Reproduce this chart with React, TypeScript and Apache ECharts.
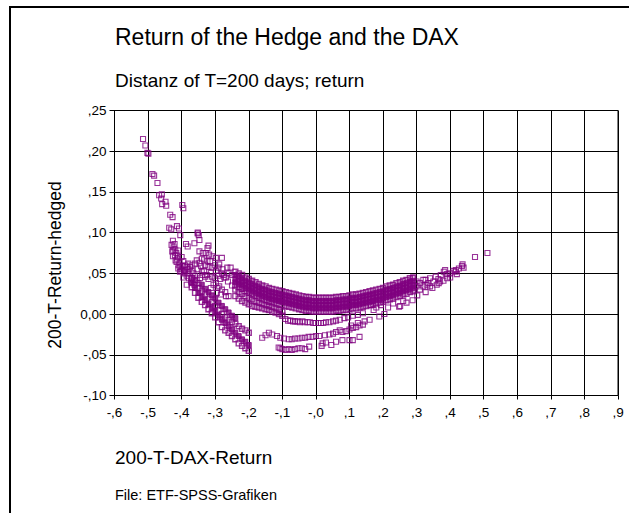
import React, { useEffect, useRef } from "react";
import * as echarts from "echarts";

const xTickLabels = ["-,6", "-,5", "-,4", "-,3", "-,2", "-,1", "-,0", ",1", ",2", ",3", ",4", ",5", ",6", ",7", ",8", ",9"];
const yTickLabels = ["-,10", "-,05", "0,00", ",05", ",10", ",15", ",20", ",25"];

// dense main band (read as rows across the band)
const bandX = [-0.24, -0.23, -0.22, -0.21, -0.2, -0.19, -0.18, -0.17, -0.16, -0.15, -0.14, -0.13, -0.12, -0.11, -0.1, -0.09, -0.08, -0.07, -0.06, -0.05, -0.04, -0.03, -0.02, -0.01, 0.0, 0.01, 0.02, 0.03, 0.04, 0.05, 0.06, 0.07, 0.08, 0.09, 0.1, 0.11, 0.12, 0.13, 0.14, 0.15, 0.16, 0.17, 0.18, 0.19, 0.2, 0.21, 0.22, 0.23, 0.24, 0.25, 0.26, 0.27, 0.28, 0.29];
const bandTop = [0.052, 0.05, 0.048, 0.045, 0.043, 0.041, 0.039, 0.037, 0.035, 0.034, 0.032, 0.031, 0.03, 0.029, 0.028, 0.027, 0.026, 0.025, 0.024, 0.023, 0.022, 0.021, 0.021, 0.02, 0.02, 0.02, 0.02, 0.02, 0.02, 0.02, 0.021, 0.021, 0.022, 0.022, 0.023, 0.024, 0.024, 0.025, 0.026, 0.027, 0.028, 0.029, 0.03, 0.031, 0.032, 0.034, 0.035, 0.036, 0.038, 0.039, 0.041, 0.042, 0.044, 0.045];
const bandUpper = [0.048, 0.046, 0.044, 0.041, 0.039, 0.037, 0.035, 0.033, 0.031, 0.03, 0.028, 0.027, 0.026, 0.025, 0.024, 0.023, 0.022, 0.021, 0.02, 0.019, 0.018, 0.017, 0.017, 0.016, 0.016, 0.016, 0.016, 0.016, 0.016, 0.016, 0.017, 0.017, 0.018, 0.018, 0.019, 0.02, 0.02, 0.021, 0.022, 0.023, 0.024, 0.025, 0.026, 0.027, 0.028, 0.03, 0.031, 0.032, 0.034, 0.035, 0.037, 0.038, 0.04, 0.041];
const bandMid = [0.043, 0.041, 0.039, 0.036, 0.034, 0.032, 0.03, 0.028, 0.026, 0.025, 0.023, 0.022, 0.021, 0.02, 0.019, 0.018, 0.017, 0.016, 0.015, 0.014, 0.013, 0.012, 0.012, 0.011, 0.011, 0.011, 0.011, 0.011, 0.011, 0.011, 0.012, 0.012, 0.013, 0.013, 0.014, 0.015, 0.015, 0.016, 0.017, 0.018, 0.019, 0.02, 0.021, 0.022, 0.023, 0.025, 0.026, 0.027, 0.029, 0.03, 0.032, 0.033, 0.035, 0.036];
const bandLower = [0.039, 0.037, 0.035, 0.032, 0.03, 0.028, 0.026, 0.024, 0.022, 0.021, 0.019, 0.018, 0.017, 0.016, 0.015, 0.014, 0.013, 0.012, 0.011, 0.01, 0.009, 0.008, 0.008, 0.007, 0.007, 0.007, 0.007, 0.007, 0.007, 0.007, 0.008, 0.008, 0.009, 0.009, 0.01, 0.011, 0.011, 0.012, 0.013, 0.014, 0.015, 0.016, 0.017, 0.018, 0.019, 0.021, 0.022, 0.023, 0.025, 0.026, 0.028, 0.029, 0.031, 0.032];
const bandBottom = [0.035, 0.033, 0.031, 0.028, 0.026, 0.024, 0.022, 0.02, 0.018, 0.017, 0.015, 0.014, 0.013, 0.012, 0.011, 0.01, 0.009, 0.008, 0.007, 0.006, 0.005, 0.004, 0.004, 0.003, 0.003, 0.003, 0.003, 0.003, 0.003, 0.003, 0.004, 0.004, 0.005, 0.005, 0.006, 0.007, 0.007, 0.008, 0.009, 0.01, 0.011, 0.012, 0.013, 0.014, 0.015, 0.017, 0.018, 0.019, 0.021, 0.022, 0.024, 0.025, 0.027, 0.028];

// second (middle) band below the main one
const midBandX = [-0.24, -0.23, -0.22, -0.21, -0.2, -0.19, -0.18, -0.17, -0.16, -0.15, -0.14, -0.13, -0.12, -0.11, -0.1];
const midBandA = [0.03, 0.027, 0.025, 0.022, 0.02, 0.018, 0.016, 0.014, 0.013, 0.011, 0.01, 0.009, 0.007, 0.005, 0.003];
const midBandB = [0.022, 0.019, 0.016, 0.014, 0.012, 0.01, 0.009, 0.008, 0.007, 0.006, 0.005, 0.003, 0.002, 0.0, -0.002];

// steep left lower branch, read as lines
const branchAX = [-0.37, -0.36, -0.35, -0.34, -0.33, -0.32, -0.31, -0.3, -0.29, -0.28, -0.27, -0.26, -0.25, -0.24, -0.23, -0.22, -0.21, -0.2];
const branchA1 = [0.033, 0.026, 0.02, 0.015, 0.011, 0.006, 0.001, -0.004, -0.01, -0.016, -0.02, -0.023, -0.027, -0.031, -0.036, -0.039, -0.042, -0.045];
const branchA2 = [0.038, 0.032, 0.026, 0.021, 0.017, 0.012, 0.008, 0.003, -0.002, -0.007, -0.011, -0.015, -0.019, -0.023, -0.027, -0.031, -0.034, -0.038];
const branchA3 = [0.044, 0.04, 0.032, 0.028, 0.024, 0.019, 0.015, 0.01, 0.005, 0.0, -0.004, -0.007, -0.01, -0.012, -0.015, -0.018, -0.02, -0.023];
const branchA4X = [-0.34, -0.33, -0.32, -0.31, -0.3, -0.29, -0.28, -0.27, -0.26, -0.25, -0.24];
const branchA4 = [0.036, 0.031, 0.027, 0.023, 0.019, 0.014, 0.01, 0.006, 0.002, -0.002, -0.005];

const leftTail = [
  [-0.515, 0.215], [-0.508, 0.207], [-0.502, 0.198], [-0.499, 0.197], [-0.487, 0.172], [-0.482, 0.17],
  [-0.472, 0.161], [-0.467, 0.146], [-0.459, 0.147], [-0.461, 0.142], [-0.458, 0.135], [-0.448, 0.138],
  [-0.446, 0.133], [-0.434, 0.122], [-0.427, 0.119], [-0.437, 0.106], [-0.431, 0.104], [-0.398, 0.134],
  [-0.395, 0.13], [-0.414, 0.108], [-0.408, 0.105], [-0.404, 0.097],
];

const leftCluster = [
  [-0.352, 0.099], [-0.349, 0.097], [-0.362, 0.087], [-0.426, 0.09], [-0.421, 0.086], [-0.428, 0.077],
  [-0.416, 0.075], [-0.426, 0.071], [-0.411, 0.071], [-0.406, 0.063], [-0.397, 0.059], [-0.401, 0.053],
  [-0.387, 0.086], [-0.382, 0.083], [-0.347, 0.077], [-0.337, 0.075], [-0.328, 0.075], [-0.318, 0.073],
  [-0.308, 0.071], [-0.298, 0.069], [-0.32, 0.084], [-0.333, 0.067], [-0.323, 0.065], [-0.315, 0.065],
  [-0.28, 0.069], [-0.288, 0.061], [-0.264, 0.057], [-0.254, 0.057], [-0.347, 0.063], [-0.342, 0.059],
  [-0.352, 0.055], [-0.333, 0.053], [-0.313, 0.051], [-0.298, 0.053], [-0.278, 0.055], [-0.424, 0.082],
  [-0.419, 0.079], [-0.413, 0.068], [-0.418, 0.066], [-0.409, 0.06], [-0.404, 0.058], [-0.4, 0.055],
  [-0.392, 0.054], [-0.392, 0.05], [-0.385, 0.047], [-0.378, 0.044], [-0.37, 0.045], [-0.365, 0.05],
  [-0.36, 0.047], [-0.372, 0.04], [-0.362, 0.036], [-0.355, 0.042], [-0.35, 0.038], [-0.345, 0.044],
  [-0.338, 0.048], [-0.33, 0.046], [-0.32, 0.043], [-0.31, 0.046], [-0.3, 0.044], [-0.29, 0.047],
  [-0.285, 0.043], [-0.275, 0.048], [-0.268, 0.045], [-0.26, 0.05], [-0.25, 0.048], [-0.298, 0.038],
  [-0.288, 0.034], [-0.28, 0.03], [-0.27, 0.027], [-0.26, 0.022], [-0.273, 0.045], [-0.262, 0.04],
  [-0.25, 0.035], [-0.313, 0.032], [-0.293, 0.032], [-0.283, 0.024], [-0.268, 0.022], [-0.323, 0.081],
  [-0.352, 0.1], [-0.347, 0.091], [-0.39, 0.052], [-0.38, 0.055], [-0.37, 0.053], [-0.375, 0.058],
  [-0.43, 0.085], [-0.425, 0.078], [-0.42, 0.072], [-0.415, 0.064], [-0.41, 0.056], [-0.405, 0.052],
  [-0.41, 0.078], [-0.4, 0.07], [-0.395, 0.065], [-0.39, 0.06], [-0.385, 0.058], [-0.38, 0.062],
  [-0.37, 0.06], [-0.36, 0.062], [-0.355, 0.066], [-0.34, 0.068], [-0.33, 0.06], [-0.32, 0.058],
  [-0.31, 0.057], [-0.3, 0.06], [-0.29, 0.057], [-0.28, 0.05], [-0.395, 0.045], [-0.385, 0.036],
  [-0.38, 0.05], [-0.365, 0.042], [-0.34, 0.052], [-0.325, 0.048], [-0.305, 0.036], [-0.295, 0.026],
];

const middleCurve = [
  [-0.091, -0.006], [-0.083, -0.008], [-0.076, -0.008], [-0.068, -0.009], [-0.062, -0.009], [-0.055, -0.009],
  [-0.048, -0.01], [-0.04, -0.009], [-0.033, -0.01], [-0.025, -0.01], [-0.018, -0.01], [-0.008, -0.011],
  [0.0, -0.011], [0.008, -0.011], [0.015, -0.011], [0.022, -0.011], [0.03, -0.01], [0.04, -0.01],
  [0.051, -0.009], [0.06, -0.008], [0.071, -0.007], [0.085, -0.005], [0.096, -0.004], [0.11, -0.002],
  [0.125, -0.001], [0.14, 0.001], [0.164, 0.011], [0.194, 0.011], [0.204, 0.0], [0.189, -0.003],
  [0.172, 0.005], [0.18, 0.008], [0.105, -0.014], [0.125, -0.011], [0.145, -0.009], [0.16, -0.007],
  [0.23, 0.013], [0.248, 0.009], [0.26, 0.016], [0.27, 0.014], [0.288, 0.017], [0.302, 0.023],
  [0.327, 0.027], [0.347, 0.032], [0.366, 0.038], [0.391, 0.044], [0.251, 0.01], [0.215, 0.008],
];

const branchB = [
  [-0.14, -0.023], [-0.13, -0.025], [-0.116, -0.027], [-0.106, -0.029], [-0.095, -0.03], [-0.081, -0.031],
  [-0.072, -0.031], [-0.062, -0.03], [-0.052, -0.03], [-0.042, -0.029], [-0.032, -0.029], [-0.022, -0.028],
  [-0.01, -0.028], [0.0, -0.027], [0.01, -0.027], [0.027, -0.026], [0.04, -0.025], [0.051, -0.024],
  [0.06, -0.022], [0.071, -0.02], [0.079, -0.022], [0.09, -0.021], [0.1, -0.019], [0.11, -0.017],
  [0.12, -0.016], [0.13, -0.014], [0.14, -0.013], [-0.111, -0.041], [-0.106, -0.042], [-0.1, -0.043],
  [-0.09, -0.044], [-0.081, -0.043], [-0.072, -0.044], [-0.062, -0.043], [-0.052, -0.042], [-0.042, -0.042],
  [-0.032, -0.043], [-0.02, -0.04], [0.017, -0.039], [0.046, -0.038], [0.079, -0.032], [0.1, -0.032],
  [0.11, -0.032], [0.13, -0.028], [0.02, -0.036], [0.03, -0.035], [0.06, -0.034], [-0.16, -0.029],
  [-0.15, -0.026],
];

const rightTail = [
  [0.3, 0.04], [0.31, 0.038], [0.32, 0.042], [0.327, 0.042], [0.335, 0.038], [0.34, 0.044],
  [0.35, 0.04], [0.357, 0.046], [0.365, 0.043], [0.372, 0.048], [0.381, 0.052], [0.39, 0.049],
  [0.4, 0.05], [0.41, 0.053], [0.416, 0.052], [0.426, 0.056], [0.435, 0.059], [0.44, 0.057],
  [0.31, 0.03], [0.32, 0.034], [0.33, 0.036], [0.34, 0.034], [0.36, 0.036], [0.37, 0.04],
  [0.38, 0.041], [0.4, 0.045], [0.42, 0.049], [0.474, 0.07], [0.511, 0.075], [0.3, 0.034],
  [0.29, 0.03], [0.288, 0.044], [0.385, 0.054], [0.417, 0.054], [0.437, 0.061],
];

const FONT = '"Liberation Sans", Arial, sans-serif';
const PURPLE = "#800080";

export default function App() {
  const ref = useRef<HTMLDivElement>(null);
  useEffect(() => {
    const chart = echarts.init(ref.current!, null, { renderer: "svg" });
    // interior of the dense masses (overlapping markers read as solid)
    const solid: number[][] = [];
    // edges of dense masses
    const edge: number[][] = [];
    bandX.forEach((x, i) => {
      solid.push([x, bandUpper[i]], [x, bandMid[i]], [x, bandLower[i]]);
      edge.push([x, bandTop[i]], [x, bandBottom[i]]);
    });
    midBandX.forEach((x, i) => {
      edge.push([x, midBandA[i]], [x, midBandB[i]]);
    });
    branchAX.forEach((x, i) => {
      solid.push([x, branchA2[i]]);
      edge.push([x, branchA1[i]], [x, branchA3[i]]);
    });
    branchA4X.forEach((x, i) => solid.push([x, branchA4[i]]));
    const sparse: number[][] = [];
    [leftTail, leftCluster, middleCurve, branchB, rightTail].forEach((g) => g.forEach((p) => sparse.push(p)));

    chart.setOption({
      animation: false,
      backgroundColor: "#fff",
      grid: { left: 114.5, top: 110.5, right: 11, bottom: 117.5, show: true, borderColor: "#000", borderWidth: 1 },
      xAxis: {
        type: "value",
        min: -0.6,
        max: 0.9,
        interval: 0.1,
        axisLine: { show: true, onZero: false, lineStyle: { color: "#000", width: 1 } },
        axisTick: { show: true, length: 4, lineStyle: { color: "#000" } },
        splitLine: { show: true, lineStyle: { color: "#000", width: 1 } },
        axisLabel: {
          color: "#000",
          fontSize: 13.5,
          fontFamily: FONT,
          margin: 10,
          formatter: (v: number) => xTickLabels[Math.round(v * 10) + 6] ?? "",
        },
      },
      yAxis: {
        type: "value",
        min: -0.1,
        max: 0.25,
        interval: 0.05,
        axisLine: { show: true, onZero: false, lineStyle: { color: "#000", width: 1 } },
        axisTick: { show: true, length: 5, lineStyle: { color: "#000" } },
        splitLine: { show: true, lineStyle: { color: "#000", width: 1 } },
        axisLabel: {
          color: "#000",
          fontSize: 13.5,
          fontFamily: FONT,
          margin: 8,
          formatter: (v: number) => yTickLabels[Math.round(v * 20) + 2] ?? "",
        },
      },
      graphic: [
        { type: "rect", shape: { x: 10, y: 7, width: 700, height: 600 }, style: { fill: "none", stroke: "#000", lineWidth: 2 }, silent: true },
        { type: "text", x: 115, y: 37, style: { text: "Return of the Hedge and the DAX", font: `23px ${FONT}`, fill: "#000", verticalAlign: "middle" } },
        { type: "text", x: 115, y: 80, style: { text: "Distanz of T=200 days; return", font: `19px ${FONT}`, fill: "#000", verticalAlign: "middle" } },
        { type: "text", x: 115, y: 457, style: { text: "200-T-DAX-Return", font: `19px ${FONT}`, fill: "#000", verticalAlign: "middle" } },
        { type: "text", x: 115, y: 495, style: { text: "File: ETF-SPSS-Grafiken", font: `14.5px ${FONT}`, fill: "#000", verticalAlign: "middle" } },
        { type: "text", x: 55, y: 265, rotation: Math.PI / 2, style: { text: "200-T-Return-hedged", font: `17.5px ${FONT}`, fill: "#000", align: "center", verticalAlign: "middle" } },
      ],
      series: [
        {
          type: "scatter",
          symbol: "rect",
          symbolSize: 5,
          data: solid,
          itemStyle: { color: PURPLE, borderColor: PURPLE, borderWidth: 1 },
        },
        {
          type: "scatter",
          symbol: "rect",
          symbolSize: 5,
          data: edge,
          itemStyle: { color: "rgba(0,0,0,0)", borderColor: PURPLE, borderWidth: 1.4 },
        },
        {
          type: "scatter",
          symbol: "rect",
          symbolSize: 5,
          data: sparse,
          itemStyle: { color: "rgba(0,0,0,0)", borderColor: PURPLE, borderWidth: 1.1 },
        },
      ],
    });
    return () => chart.dispose();
  }, []);
  return <div ref={ref} style={{ position: "absolute", left: 0, top: 0, width: 629, height: 513 }} />;
}
